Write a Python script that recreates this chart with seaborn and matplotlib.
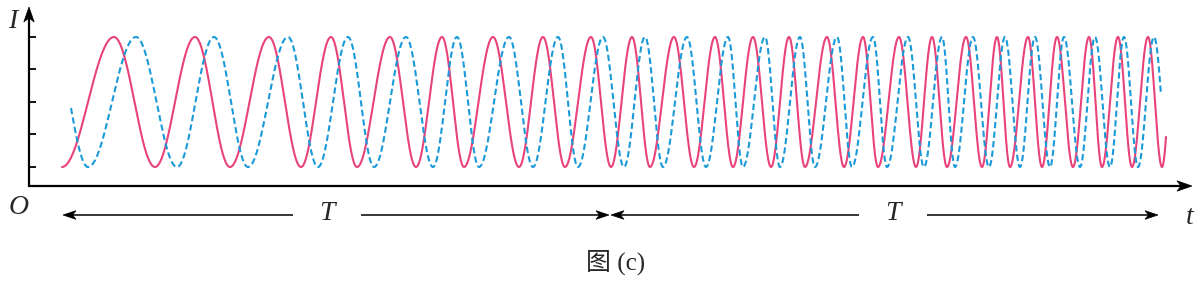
import numpy as np
import pandas as pd
import matplotlib
matplotlib.use("Agg")
import matplotlib.pyplot as plt
from matplotlib.patches import Polygon
import seaborn as sns

# ---- data (time of each extremum, in picture units) ----
red_peak_t = [85, 166, 240, 302, 361, 413, 464, 514, 562, 603, 645, 686, 724,
              760, 798, 834, 870, 903, 937, 968, 999, 1028, 1060, 1089, 1119]
red_trough_t = [33, 126, 201, 272, 328, 387, 435, 490, 536, 582, 621, 665, 704,
                742, 776, 815, 849, 887, 918, 953, 981, 1013, 1044, 1073, 1103, 1133]
red_end = (1137, 49)

blue_peak_t = [107, 185, 259, 319, 377, 428, 480, 529, 574, 616, 658, 699, 736,
               771, 808, 844, 879, 913, 944, 976, 1006, 1035, 1066, 1095, 1125]
blue_trough_t = [59, 148, 219, 289, 345, 404, 450, 504, 549, 595, 634, 677, 714,
                 751, 786, 823, 858, 895, 926, 960, 991, 1021, 1051, 1081, 1109]
blue_start = (42, 78)
blue_end = (1132, 91)

I_max = 149
I_min = 19
tick_levels = [19, 52, 84, 117, 149]

period_marks = [34, 582, 1131]          # start / middle / end of the two T intervals
period_label_t = [298, 864]
period_labels = ["T", "T"]

RED = "#E8437A"
BLUE = "#1A9AD8"


def build_wave(peaks, troughs, start=None, end=None):
    ext = sorted([(t, 1.0) for t in peaks] + [(t, -1.0) for t in troughs])
    ts = [e[0] for e in ext]
    ph = []
    p = 0.0 if ext[0][1] > 0 else np.pi
    for _ in ext:
        ph.append(p)
        p += np.pi
    mid = (I_max + I_min) / 2
    amp = (I_max - I_min) / 2
    if start is not None:
        c = (start[1] - mid) / amp
        x = np.arccos(np.clip(c * ext[0][1], -1, 1))
        ts = [start[0]] + ts
        ph = [ph[0] - x] + ph
    if end is not None:
        c = (end[1] - mid) / amp
        x = np.arccos(np.clip(c * ext[-1][1], -1, 1))
        ts = ts + [end[0]]
        ph = ph + [ph[-1] + x]
    tg = np.linspace(ts[0], ts[-1], 4000)
    phase = np.interp(tg, ts, ph)
    return pd.DataFrame({"t": tg, "I": mid + amp * np.cos(phase)})


red_df = build_wave(red_peak_t, red_trough_t, None, red_end)
blue_df = build_wave(blue_peak_t, blue_trough_t, blue_start, blue_end)

sns.set_theme(style="white")
plt.rcParams["font.family"] = ["Liberation Serif", "Noto Sans CJK SC", "DejaVu Sans"]

fig = plt.figure(figsize=(12, 2.84), dpi=100)
ax = fig.add_axes([0, 0, 1, 1])
ax.set_xlim(-29, 1171)
ax.set_ylim(-98, 186)
ax.axis("off")

sns.lineplot(data=red_df, x="t", y="I", color=RED, lw=1.5, ax=ax,
             estimator=None, sort=False)
sns.lineplot(data=blue_df, x="t", y="I", color=BLUE, lw=1.5, ax=ax,
             estimator=None, sort=False, linestyle=(0, (3, 1.6)))


def arrow(x0, y0, x1, y1, lw, L=13.0, W=4.6, notch=3.5):
    """Line from (x0,y0) to tip (x1,y1) with a stealth-style head (1 data unit = 1 px)."""
    d = np.array([x1 - x0, y1 - y0], float)
    d /= np.hypot(*d)
    n = np.array([-d[1], d[0]])
    tip = np.array([x1, y1], float)
    back = tip - d * L
    ax.plot([x0, back[0] + d[0] * 4], [y0, back[1] + d[1] * 4], color="black",
            lw=lw, solid_capstyle="butt")
    pts = [tip, back + n * W, back + d * notch, back - n * W]
    ax.add_patch(Polygon(pts, closed=True, facecolor="black", edgecolor="black",
                         lw=0.5, joinstyle="miter"))


# axes with arrows
arrow(0, -0.8, 0, 179, 1.6, L=15, W=5.2, notch=4)
arrow(-0.8, 0, 1163, 0, 1.6, L=15, W=5.2, notch=4)

for lv in tick_levels:
    ax.plot([0, 7], [lv, lv], color="black", lw=1.3, solid_capstyle="butt")

# period arrows
y_arr = -29
gap = 34
for k, lab in enumerate(period_labels):
    a, b = period_marks[k], period_marks[k + 1]
    c = period_label_t[k]
    arrow(c - gap, y_arr, a, y_arr, 1.1, L=13, W=4.3)
    arrow(c + gap, y_arr, b - 2, y_arr, 1.1, L=13, W=4.3)
    ax.text(c, y_arr + 2, lab, ha="center", va="center", fontsize=20,
            style="italic")

ax.text(-16, 164, "I", ha="center", va="center", fontsize=20, style="italic")
ax.text(-10, -21, "O", ha="center", va="center", fontsize=20, style="italic")
ax.text(1161, -31, "t", ha="center", va="center", fontsize=20, style="italic")
ax.text(587, -76, "图 (c)", ha="center", va="center", fontsize=18)

fig.savefig("out.png", dpi=100)
